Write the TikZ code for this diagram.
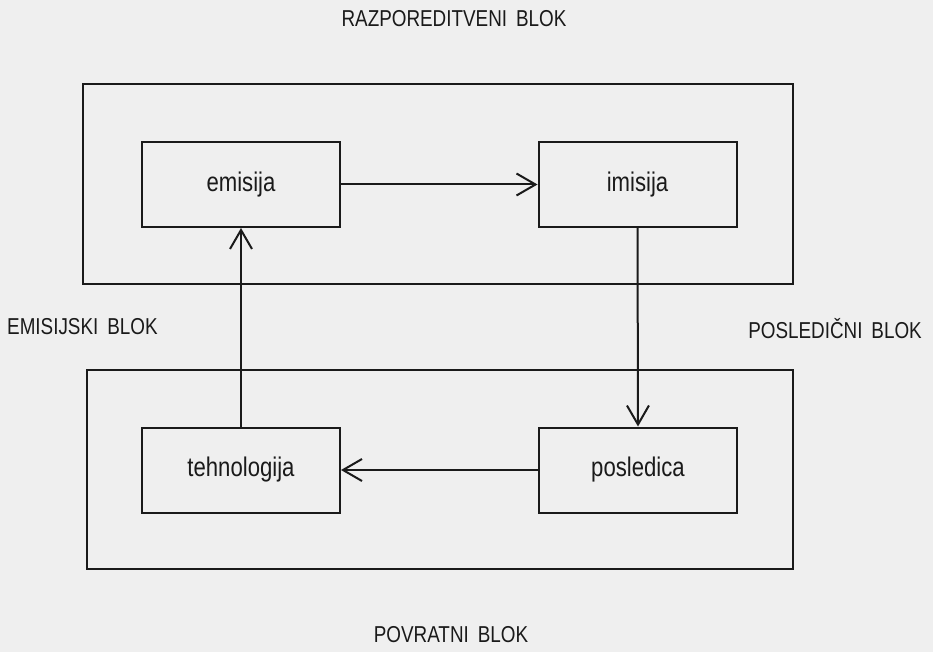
\documentclass[tikz,border=0pt]{standalone}
\usepackage{fontspec}
\setmainfont{Liberation Sans}
\newfontfamily\labfont[FakeStretch=0.82]{Liberation Sans}
\newfontfamily\innfont[FakeStretch=0.82]{Liberation Sans}
\usetikzlibrary{arrows.meta}
\definecolor{paper}{HTML}{EFEFEF}
\definecolor{ink}{HTML}{1A1A1A}
\begin{document}
\begin{tikzpicture}[x=1pt,y=-1pt,
  bigblock/.style={draw=ink, line width=2pt, inner sep=0pt},
  innerbox/.style={draw=ink, line width=2pt, minimum width=198pt, minimum height=85pt, inner sep=0pt,
     font=\innfont\fontsize{27}{30}\selectfont, text=ink},
  blocklabel/.style={inner sep=0pt, font=\labfont\fontsize{23}{27}\selectfont, text=ink},
  arr/.style={draw=ink, line width=2pt, -{Straight Barb[length=19pt,width=22pt,line width=2pt]}}]
\useasboundingbox (0,0) rectangle (933,652);
\fill[paper] (0,0) rectangle (933,652);

% large blocks
\node[bigblock, minimum width=710pt, minimum height=200pt] (razp) at (438,184) {};
\node[bigblock, minimum width=706pt, minimum height=199pt] (povr) at (440,469.5) {};

% inner boxes
\node[innerbox] (emisija) at (241,184.5) {emisija};
\node[innerbox] (imisija) at (637.5,184.5) {imisija};
\node[innerbox] (tehno) at (241,470) {tehnologija};
\node[innerbox] (posled) at (638,470) {posledica};

% block labels
\node[blocklabel] (lrazp) at (454,19) {RAZPOREDITVENI\hspace{9pt}BLOK};
\node[blocklabel, anchor=west] (lemis) at (7,327) {EMISIJSKI\hspace{9pt}BLOK};
\node[blocklabel, anchor=east] (lposl) at (922,329) {POSLEDIČNI\hspace{9pt}BLOK};
\node[blocklabel] (lpovr) at (451,635) {POVRATNI\hspace{9pt}BLOK};

% connectors
\draw[arr] (emisija.east) -- (imisija.west);
\draw[arr] (imisija.south) -- (posled.north);
\draw[arr] (posled.west) -- (tehno.east);
\draw[arr] (tehno.north) -- (emisija.south);
\end{tikzpicture}
\end{document}
